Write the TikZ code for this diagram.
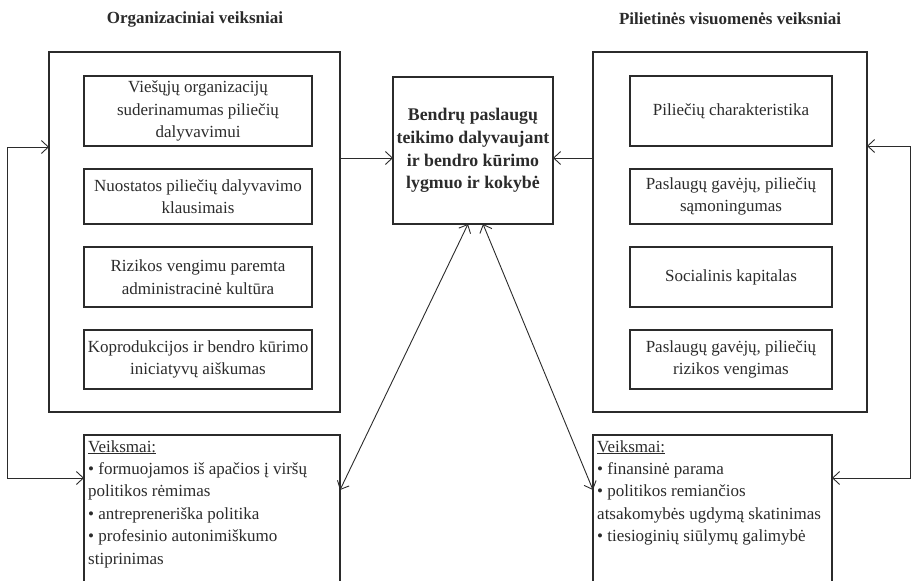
\documentclass[tikz,border=0pt]{standalone}
\usepackage{fontspec}
\setmainfont{Liberation Serif}
\usetikzlibrary{arrows.meta}
\definecolor{ink}{HTML}{2B2B2B}
\begin{document}
\begin{tikzpicture}[x=1pt,y=-1pt,
  frame/.style={draw=ink, line width=1.1pt, inner sep=0pt, outer sep=0pt},
  factor/.style={frame, align=center, text=ink, font=\fontsize{17}{22.5}\selectfont},
  core/.style={draw=ink, line width=2.4pt, inner sep=0pt, outer sep=0pt, align=center, text=ink,
    font=\fontsize{17.8}{22.7}\selectfont\bfseries},
  heading/.style={text=ink, font=\fontsize{17}{18}\selectfont\bfseries},
  actions/.style={frame, anchor=north, minimum height=200pt},
  actext/.style={anchor=north west, align=left, inner sep=0pt, text=ink,
    font=\fontsize{17}{22.4}\selectfont},
  link/.style={draw=ink, line width=0.9pt, -{Straight Barb[length=7pt,width=13pt,line width=0.9pt]}},
  twoway/.style={draw=ink, line width=0.9pt,
    {Straight Barb[length=7pt,width=13pt,line width=0.9pt]}-{Straight Barb[length=7pt,width=13pt,line width=0.9pt]}}]
\useasboundingbox (0,0) rectangle (911,581);
\clip (0,0) rectangle (911,581);

% headings
\node[heading] (hl) at (195,19) {Organizaciniai veiksniai};
\node[heading] (hr) at (730,19) {Pilietinės visuomenės veiksniai};

% organisational factors
\node[frame, minimum width=291pt, minimum height=360pt] (lo) at (194.5,232) {};
\node[factor, minimum width=228pt, minimum height=70pt] (l1) at (198,111)
  {Viešųjų organizacijų\\suderinamumas piliečių\\dalyvavimui};
\node[factor, minimum width=228pt, minimum height=55pt] (l2) at (198,196.5)
  {Nuostatos piliečių dalyvavimo\\klausimais};
\node[factor, minimum width=228pt, minimum height=60pt] (l3) at (198,277)
  {Rizikos vengimu paremta\\administracinė kultūra};
\node[factor, minimum width=228pt, minimum height=59pt] (l4) at (198,359.5)
  {Koprodukcijos ir bendro kūrimo\\iniciatyvų aiškumas};

% civil society factors
\node[frame, minimum width=274pt, minimum height=360pt] (ro) at (730,232) {};
\node[factor, minimum width=202pt, minimum height=70pt] (r1) at (731,111)
  {Piliečių charakteristika};
\node[factor, minimum width=202pt, minimum height=55pt] (r2) at (731,196.5)
  {Paslaugų gavėjų, piliečių\\sąmoningumas};
\node[factor, minimum width=202pt, minimum height=60pt] (r3) at (731,277)
  {Socialinis kapitalas};
\node[factor, minimum width=202pt, minimum height=59pt] (r4) at (731,359.5)
  {Paslaugų gavėjų, piliečių\\rizikos vengimas};

% outcome
\node[core, minimum width=160pt, minimum height=147pt] (cb) at (473,150.5)
  {Bendrų paslaugų\\teikimo dalyvaujant\\ir bendro kūrimo\\lygmuo ir kokybė};

% actions (the text block hangs 5pt below the top edge)
\node[actions, minimum width=256pt] (la) at (212,435) {};
\node[actext] (lat) at ([shift={(4pt,-5pt)}]la.north west)
  {\underline{Veiksmai:}\\
   • formuojamos iš apačios į viršų\\
   politikos rėmimas\\
   • antrepreneriška politika\\
   • profesinio autonimiškumo\\
   stiprinimas};
\node[actions, minimum width=239pt] (ra) at (712.5,435) {};
\node[actext] (rat) at ([shift={(4pt,-5pt)}]ra.north west)
  {\underline{Veiksmai:}\\
   • finansinė parama\\
   • politikos remiančios\\
   atsakomybės ugdymą skatinimas\\
   • tiesioginių siūlymų galimybė};

% connector levels
\coordinate (ymid) at (0,158);
\coordinate (ydiag) at (0,490);
\coordinate (lt) at (7,147);
\coordinate (lb) at (7,478);
\coordinate (rt) at (910,146);
\coordinate (rb) at (910,478);

% factors to outcome
\draw[link] (lo.east |- ymid) -- (cb.west |- ymid);
\draw[link] (ro.west |- ymid) -- (cb.east |- ymid);

% outcome to actions
\draw[twoway] ([xshift=-5pt]cb.south) -- (la.east |- ydiag);
\draw[twoway] ([xshift=10pt]cb.south) -- (ra.west |- ydiag);

% feedback loops
\draw[twoway] (lb -| la.west) -- (lb) -- (lt) -- (lt -| lo.west);
\draw[twoway] (rb -| ra.east) -- (rb) -- (rt) -- (rt -| ro.east);
\end{tikzpicture}
\end{document}
